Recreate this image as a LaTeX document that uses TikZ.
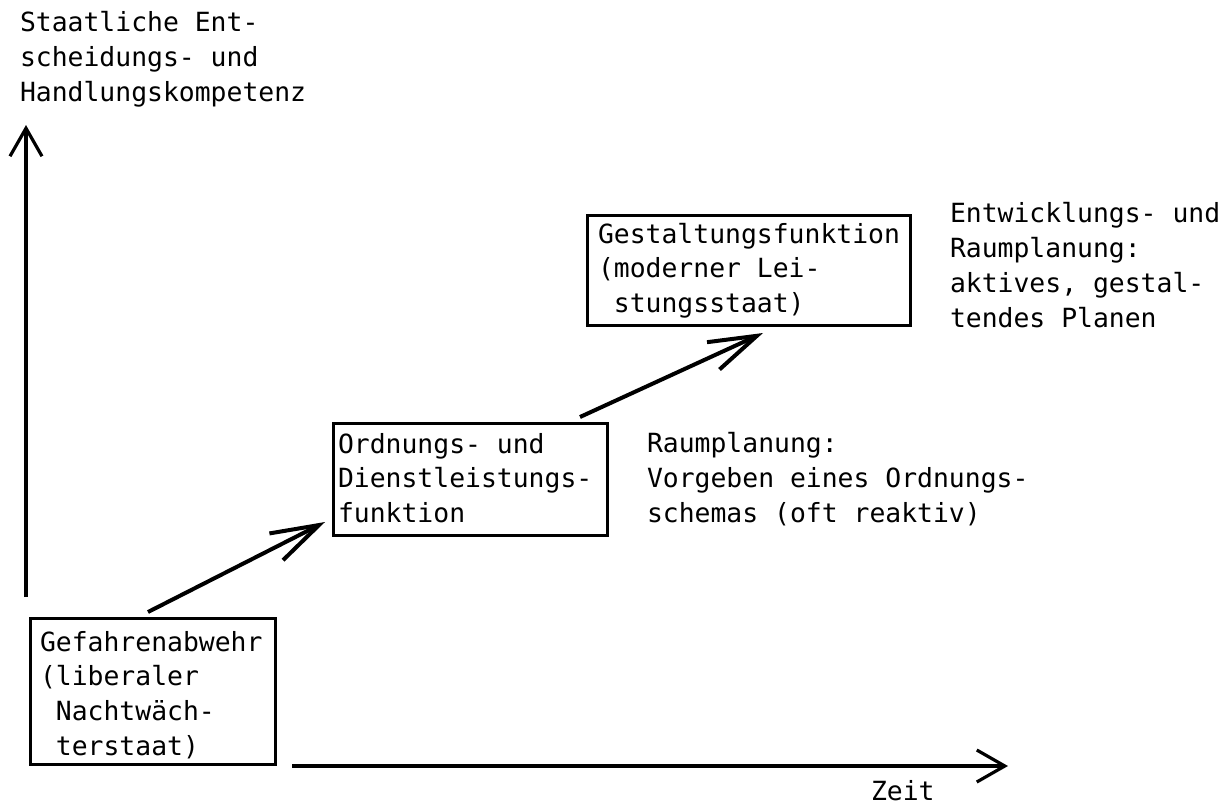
\documentclass[tikz,border=0pt]{standalone}
\usepackage{fontspec}
\setmonofont{DejaVu Sans Mono}
\usetikzlibrary{arrows.meta}
\hyphenpenalty=10000
\exhyphenpenalty=10000

\begin{document}
\begin{tikzpicture}[x=0.5pt,y=-0.5pt,
  txt/.style={font=\ttfamily\fontsize{13.2}{17.4}\selectfont},
  lbl/.style={txt, align=left, inner sep=0pt, outer sep=0pt, anchor=base west},
  stage/.style={txt, draw, line width=1.5pt, align=flush left, inner ysep=0pt,
    outer sep=0pt, anchor=north west},
  axis/.style={line width=1.6pt, -{Straight Barb[length=14pt,width=16pt]}},
  rise/.style={line width=2pt, -{Straight Barb[length=24pt,width=15pt]}}]

\useasboundingbox (0,0) rectangle (1225,805);

% axis labels (multi-line labels are placed by their last baseline)
\node[lbl] (ttl) at (20,101) {Staatliche Ent-\\scheidungs- und\\Handlungskompetenz};
\node[lbl] (zeit) at (871,800) {Zeit};

% axes
\coordinate (yfoot) at (26,597);
\coordinate (ytop)  at (26,125);
\coordinate (xfoot) at (292,766);
\coordinate (xend)  at (1008,766);
\draw[axis] (yfoot) -- (ytop);
\draw[axis] (xfoot) -- (xend);

% the three stages
\node[stage, inner xsep=5pt, text width=112.5pt, text height=16.5pt, text depth=56.5pt]
  (b1) at (30,618) {Gefahrenabwehr\\(liberaler\\~Nachtwäch-\\~terstaat)};
\node[stage, inner xsep=2.5pt, text width=132pt, text height=15pt, text depth=41pt]
  (b2) at (333,423) {Ordnungs- und\\Dienstleistungs-\\funktion};
\node[stage, inner xsep=5.5pt, text width=150.5pt, text height=14pt, text depth=41pt]
  (b3) at (587,215) {Gestaltungsfunktion\\(moderner Lei-\\~stungsstaat)};

% planning notes
\node[lbl] (r2) at (647,522) {Raumplanung:\\Vorgeben eines Ordnungs-\\schemas (oft reaktiv)};
\node[lbl] (r3) at (950,327) {Entwicklungs- und\\Raumplanung:\\aktives, gestal-\\tendes Planen};

% transitions between stages
\draw[rise] ([xshift=59pt,yshift=3pt]b1.north west) -- ([xshift=-4pt,yshift=6.5pt]b2.south west);
\draw[rise] ([xshift=-13.5pt,yshift=3pt]b2.north east) -- ([xshift=88pt,yshift=-4pt]b3.south west);
\end{tikzpicture}
\end{document}
